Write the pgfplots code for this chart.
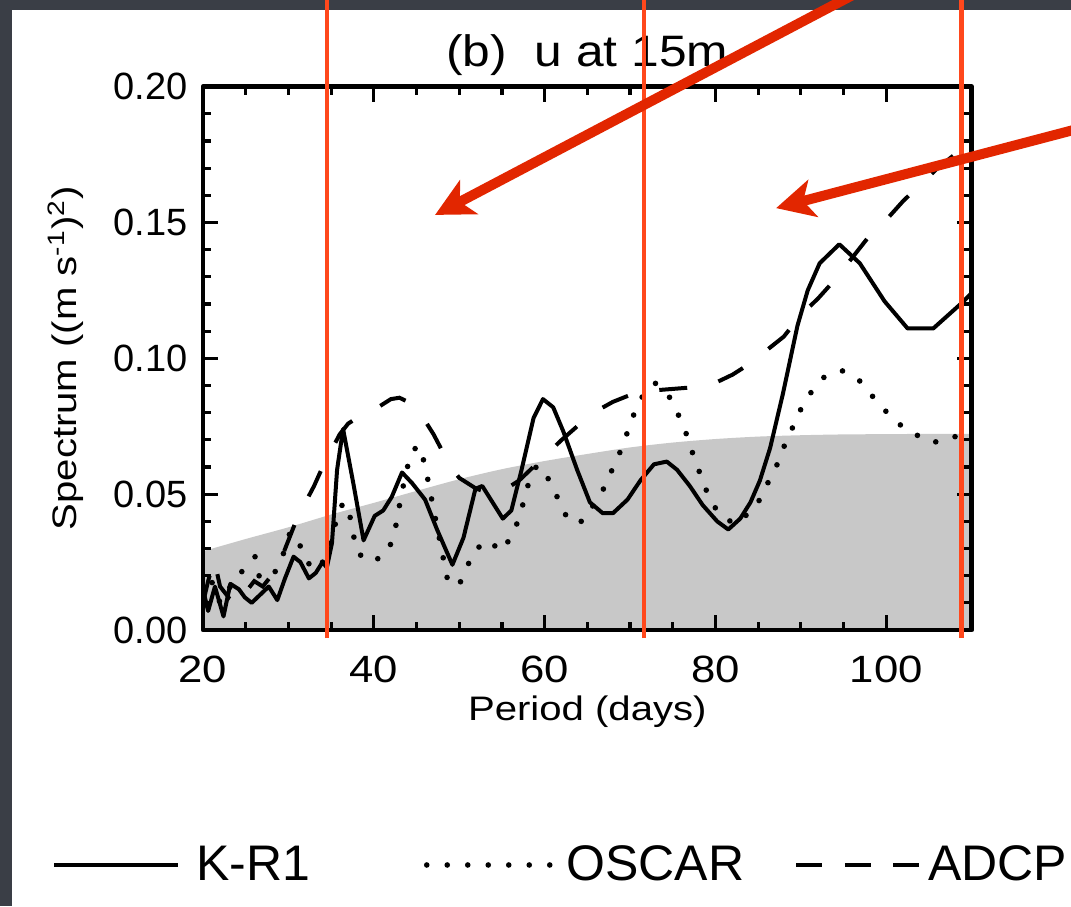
\documentclass[border=0pt]{standalone}
\usepackage{fontspec}
\setmainfont{Liberation Sans}
\usepackage{graphicx}
\usepackage{pgfplots}
\pgfplotsset{compat=1.18}
\usetikzlibrary{arrows.meta}
\definecolor{bgdark}{RGB}{58,62,70}
\definecolor{fillgray}{RGB}{200,200,200}
\definecolor{lred}{RGB}{255,72,28}
\definecolor{ared}{RGB}{226,38,0}
\pgfplotsset{
  oscarleg/.style={legend image code/.code={\draw[##1, dash pattern=on 0pt off 10.25pt] (0pt,0pt) -- (62pt,0pt);}},
  adcpleg/.style={legend image code/.code={\draw[##1, dash pattern=on 13pt off 11.25pt] (0pt,0pt) -- (62pt,0pt);}},
}
\begin{document}
\begin{tikzpicture}
\useasboundingbox (-101.5pt,-138pt) rectangle (434pt,315pt);
\fill[bgdark] (-101.5pt,-138pt) rectangle (434pt,315pt);
\fill[white] (-95.5pt,-138pt) rectangle (434pt,310pt);
\clip (-101.5pt,-138pt) rectangle (434pt,315pt);
\begin{axis}[
  at={(0pt,0pt)}, anchor=south west,
  scale only axis, width=384.35pt, height=271.65pt,
  xmin=20, xmax=110, ymin=0, ymax=0.20,
  axis on top,
  axis line style={line width=2.4pt, line join=round},
  every tick/.style={black, line width=1.6pt},
  major tick length=7.5pt, minor tick length=4pt,
  xtick={20,40,60,80,100}, minor x tick num=3,
  ytick={0,0.05,0.10,0.15,0.20}, minor y tick num=4,
  scaled y ticks=false,
  /pgf/number format/assume math mode=true,
  xticklabel={\scalebox{1.15}[1]{\pgfmathprintnumber{\tick}}},
  yticklabel={\pgfmathprintnumber[fixed,fixed zerofill,precision=2]{\tick}},
  tick label style={font=\fontsize{19}{23}\selectfont},
  xticklabel style={inner sep=0pt, yshift=-13pt},
  yticklabel style={inner sep=0pt, xshift=-7.5pt},
  xlabel={\scalebox{1.18}[1]{Period (days)}},
  ylabel={\scalebox{1.18}[1]{Spectrum ((m s\textsuperscript{-1})\textsuperscript{2})}},
  label style={font=\fontsize{17}{20}\selectfont},
  xlabel style={at={(axis description cs:0.5,0)}, anchor=north, inner sep=0pt, yshift=-32.5pt},
  ylabel style={at={(axis description cs:0,0.5)}, anchor=base, inner sep=0pt, yshift=63pt},
  title={\scalebox{1.13}[1]{(b)\ \ u at 15m}},
  title style={at={(axis description cs:0.5,1)}, anchor=base, inner sep=0pt, yshift=4pt, font=\fontsize{22}{26}\selectfont},
  legend columns=3,
  legend cell align=left,
  legend style={at={(-0.1964,-0.4325)}, anchor=west, draw=none, fill=none, inner sep=0pt, outer sep=0pt,
    font=\fontsize{25}{30}\selectfont, nodes={inner sep=0pt}},
  legend image code/.code={\draw[#1] (0pt,0pt) -- (62pt,0pt);},
]
% significance (shaded) level
\addplot[draw=none, fill=fillgray, smooth, forget plot] coordinates {
(20,0.0290)(25,0.0335)(30,0.0378)(35,0.0425)(40,0.0468)(45,0.0512)(50,0.0555)
(55,0.0592)(60,0.0622)(65,0.0648)(70,0.0672)(75,0.0690)(80,0.0703)(85,0.0712)
(90,0.0717)(95,0.0720)(100,0.0721)(105,0.0722)(110,0.0722)} \closedcycle;
% K-R1
\addplot[black, line width=2pt, line join=round] coordinates {
(20.0,0.015)(20.6,0.007)(21.4,0.016)(22.4,0.005)(23.2,0.017)(24.2,0.015)(24.9,0.012)
(25.7,0.010)(26.7,0.013)(27.7,0.016)(28.7,0.011)(29.6,0.019)(30.6,0.027)(31.4,0.025)
(32.4,0.019)(33.2,0.021)(34.0,0.025)(34.5,0.023)(35.1,0.032)(35.7,0.059)(36.4,0.074)
(37.6,0.054)(38.8,0.033)(40.1,0.042)(41.1,0.044)(42.1,0.049)(43.3,0.058)(44.5,0.054)
(46.0,0.048)(47.4,0.037)(49.2,0.024)(50.5,0.034)(51.9,0.052)(52.7,0.053)(53.9,0.047)
(55.1,0.041)(56.1,0.044)(57.3,0.059)(58.7,0.078)(59.8,0.085)(61.0,0.082)(62.2,0.073)
(63.8,0.059)(65.3,0.047)(66.8,0.043)(68.0,0.043)(69.7,0.048)(71.2,0.055)(72.8,0.061)
(74.3,0.062)(75.5,0.059)(77.0,0.053)(78.5,0.046)(80.2,0.040)(81.5,0.037)(82.9,0.041)
(84.1,0.047)(85.2,0.055)(86.4,0.067)(87.9,0.087)(89.6,0.112)(90.8,0.125)(92.2,0.135)
(94.5,0.142)(96.9,0.135)(99.8,0.121)(102.5,0.111)(105.5,0.111)(108.7,0.120)(110,0.124)};
\addlegendentry{\hspace*{8pt}K-R1\hspace*{57pt}}
% OSCAR
\addplot[black, line width=2.8pt, line cap=round, dash pattern=on 0pt off 10pt, oscarleg] coordinates {
(20,0.012)(21,0.018)(22,0.010)(23,0.015)(24,0.020)(25.1,0.023)(26.1,0.027)(26.5,0.020)
(27.9,0.019)(29,0.024)(30.2,0.036)(31,0.034)(32,0.026)(33,0.022)(34,0.025)(35.6,0.040)
(36.4,0.047)(37.2,0.042)(37.6,0.035)(38.2,0.028)(39.9,0.025)(41.7,0.029)(42.5,0.037)
(42.9,0.044)(43.3,0.051)(44.3,0.065)(45.2,0.068)(46.0,0.061)(46.4,0.054)(48.6,0.019)
(49.9,0.016)(50.9,0.023)(51.7,0.029)(53.3,0.033)(55.0,0.029)(56.2,0.035)(57.0,0.041)
(57.6,0.048)(58.2,0.055)(59.0,0.060)(59.8,0.060)(60.8,0.053)(61.8,0.047)(62.8,0.040)
(64.5,0.040)(66.9,0.052)(67.9,0.059)(68.9,0.066)(69.6,0.072)(70.4,0.079)(71.2,0.085)
(72.9,0.091)(74.4,0.087)(75.4,0.081)(76.4,0.074)(77.0,0.068)(77.8,0.061)(78.6,0.054)
(79.5,0.047)(80.7,0.042)(82.3,0.039)(84.3,0.044)(85.4,0.049)(86.4,0.056)(87.4,0.062)
(88.2,0.069)(89.1,0.075)(90.1,0.082)(91.3,0.088)(92.7,0.093)(94.8,0.0955)(96.8,0.092)
(98.4,0.086)(99.8,0.081)(101.4,0.076)(103.4,0.072)(105.5,0.069)(107.7,0.071)
(108.7,0.0715)(110,0.0715)};
\addlegendentry{\hspace*{6.5pt}OSCAR\hspace*{25pt}}
% ADCP
\addplot[black, line width=2pt, dash pattern=on 14pt off 16pt, adcpleg] coordinates {
(20,0.010)(20.6,0.018)(21.3,0.026)(22,0.016)(23,0.012)(24,0.017)(25,0.014)(26,0.018)
(27,0.016)(28,0.020)(29,0.025)(30,0.033)(31,0.041)(32,0.047)(33,0.053)(34,0.060)
(35,0.066)(36,0.072)(37,0.076)(38,0.078)(39,0.080)(40,0.081)(41,0.083)(42,0.085)
(43,0.0855)(44,0.084)(45,0.081)(46,0.077)(47,0.072)(48,0.066)(49,0.060)(50,0.056)
(51,0.054)(52,0.052)(53,0.051)(54,0.051)(55,0.052)(56,0.053)(57,0.055)(58,0.058)
(59,0.061)(60,0.064)(62,0.070)(64,0.0755)(66,0.0805)(68,0.084)(70,0.0865)(72,0.088)
(74,0.0885)(76,0.089)(78,0.0895)(80,0.091)(82,0.094)(84,0.098)(86,0.103)(88,0.108)
(90,0.116)(92,0.122)(94,0.129)(96,0.137)(98,0.145)(100,0.151)(102,0.158)(104,0.164)
(106,0.170)(108,0.175)(110,0.180)};
\addlegendentry{\hspace*{3pt}ADCP}
% annotation anchors
\coordinate (v1b) at (axis cs:34.5,-0.003);
\coordinate (v1t) at (axis cs:34.5,0.26);
\coordinate (v2b) at (axis cs:71.6,-0.003);
\coordinate (v2t) at (axis cs:71.6,0.26);
\coordinate (v3b) at (axis cs:108.8,-0.003);
\coordinate (v3t) at (axis cs:108.8,0.26);
\coordinate (a1s) at (axis cs:98.1,0.2371);
\coordinate (a1e) at (axis cs:47.17,0.1528);
\coordinate (a2s) at (axis cs:125.0,0.1866);
\coordinate (a2e) at (axis cs:87.1,0.1553);
\end{axis}
\draw[lred, line width=2.2pt] (v1b) -- (v1t);
\draw[lred, line width=2.2pt] (v2b) -- (v2t);
\draw[lred, line width=2.2pt] (v3b) -- (v3t);
\draw[ared, line width=5pt, -{Stealth[length=19pt,width=19pt,inset=5pt]}] (a1s) -- (a1e);
\draw[ared, line width=5pt, -{Stealth[length=19pt,width=19pt,inset=5pt]}] (a2s) -- (a2e);
\end{tikzpicture}
\end{document}
